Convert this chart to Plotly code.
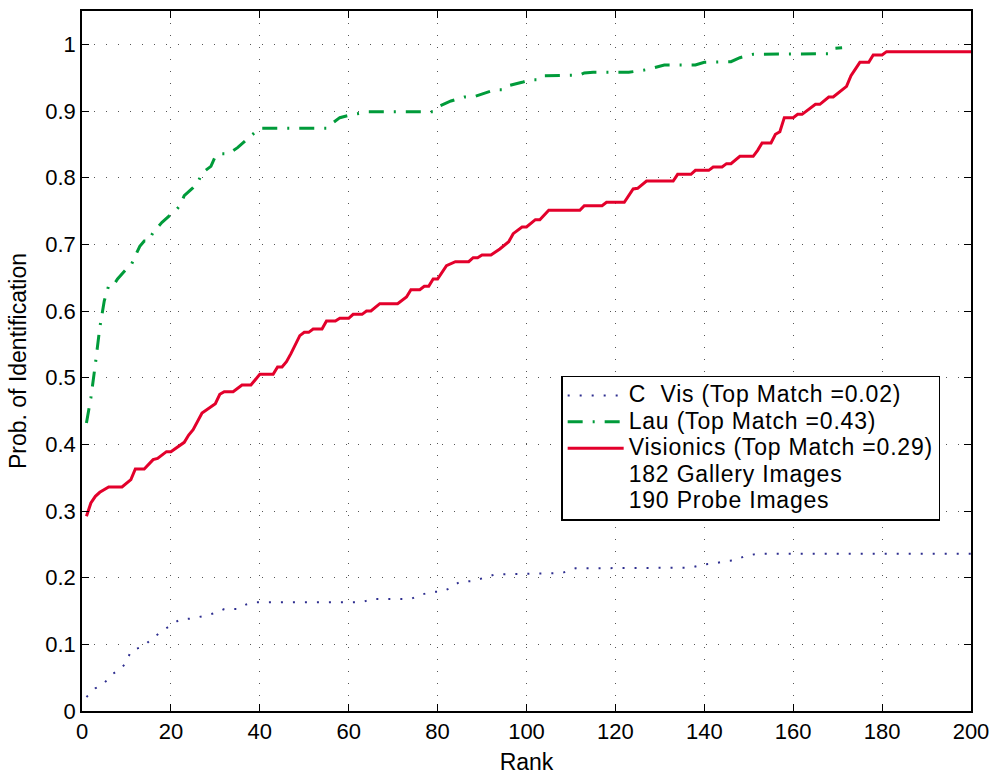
import plotly.graph_objects as go

# ---- data ----
vis_rank = [1, 2, 3, 4, 6, 9, 11, 12, 14, 16, 17, 19, 20, 23, 24, 25, 27, 30, 31, 32, 34, 36, 38, 40, 43, 44, 45, 46, 47, 49, 50, 51, 52, 54, 55, 57, 58, 60, 61, 63, 64, 65, 67, 71, 73, 74, 76, 77, 78, 79, 80, 82, 84, 87, 88, 89, 90, 92, 94, 96, 97, 99, 100, 102, 103, 105, 112, 113, 117, 118, 122, 123, 124, 125, 127, 133, 134, 137, 138, 141, 142, 144, 145, 146, 148, 151, 152, 153, 155, 156, 157, 158, 160, 161, 162, 165, 166, 168, 169, 172, 173, 175, 177, 178, 180, 181, 200]
vis_prob = [0.292, 0.312, 0.322, 0.328, 0.336, 0.336, 0.347, 0.363, 0.363, 0.377, 0.379, 0.389, 0.389, 0.403, 0.414, 0.422, 0.447, 0.461, 0.475, 0.479, 0.479, 0.489, 0.489, 0.505, 0.505, 0.516, 0.516, 0.524, 0.536, 0.563, 0.568, 0.568, 0.573, 0.573, 0.585, 0.585, 0.589, 0.589, 0.595, 0.595, 0.600, 0.600, 0.611, 0.611, 0.621, 0.632, 0.632, 0.637, 0.637, 0.648, 0.648, 0.668, 0.674, 0.674, 0.680, 0.680, 0.684, 0.684, 0.693, 0.704, 0.716, 0.726, 0.726, 0.737, 0.737, 0.751, 0.751, 0.758, 0.758, 0.763, 0.763, 0.774, 0.783, 0.784, 0.795, 0.795, 0.805, 0.805, 0.811, 0.811, 0.816, 0.816, 0.821, 0.821, 0.832, 0.832, 0.841, 0.852, 0.852, 0.865, 0.869, 0.890, 0.890, 0.895, 0.895, 0.910, 0.910, 0.921, 0.921, 0.937, 0.953, 0.973, 0.973, 0.984, 0.984, 0.989, 0.989]

lau_rank = [1, 2, 3, 4, 5, 6, 7, 8, 10, 11, 12, 13, 14, 15, 16, 18, 20, 21, 22, 23, 25, 26, 27, 29, 30, 31, 33, 35, 37, 39, 40, 55, 56, 58, 61, 63, 64, 79, 80, 83, 86, 88, 91, 93, 95, 96, 99, 101, 103, 104, 112, 113, 115, 123, 127, 129, 131, 138, 140, 146, 148, 151, 165, 168, 169, 171]
lau_prob = [0.432, 0.470, 0.520, 0.575, 0.615, 0.638, 0.638, 0.648, 0.663, 0.668, 0.683, 0.697, 0.705, 0.705, 0.718, 0.733, 0.745, 0.750, 0.758, 0.773, 0.785, 0.792, 0.807, 0.817, 0.832, 0.836, 0.836, 0.845, 0.857, 0.868, 0.874, 0.874, 0.880, 0.890, 0.895, 0.897, 0.899, 0.899, 0.906, 0.915, 0.921, 0.921, 0.927, 0.932, 0.932, 0.938, 0.943, 0.947, 0.947, 0.953, 0.954, 0.957, 0.958, 0.958, 0.962, 0.966, 0.969, 0.969, 0.973, 0.974, 0.980, 0.985, 0.985, 0.986, 0.994, 0.995]

cvis_rank = [1, 3, 5, 7, 9, 10, 11, 14, 16, 18, 20, 22, 25, 27, 30, 32, 35, 37, 39, 63, 65, 74, 76, 79, 81, 83, 85, 88, 90, 93, 108, 111, 137, 140, 142, 145, 147, 149, 152, 200]
cvis_prob = [0.021, 0.034, 0.042, 0.056, 0.065, 0.074, 0.090, 0.098, 0.110, 0.120, 0.129, 0.137, 0.139, 0.142, 0.147, 0.153, 0.153, 0.160, 0.163, 0.163, 0.168, 0.168, 0.174, 0.179, 0.179, 0.185, 0.194, 0.195, 0.199, 0.205, 0.207, 0.214, 0.215, 0.220, 0.221, 0.225, 0.226, 0.232, 0.236, 0.236]

names = ["C  Vis (Top Match =0.02)", "Lau (Top Match =0.43)", "Visionics (Top Match =0.29)"]
notes = ["182 Gallery Images", "190 Probe Images"]
x_ticks = [0, 20, 40, 60, 80, 100, 120, 140, 160, 180, 200]
y_ticks = [0, 0.1, 0.2, 0.3, 0.4, 0.5, 0.6, 0.7, 0.8, 0.9, 1]
y_labels = ["0", "0.1", "0.2", "0.3", "0.4", "0.5", "0.6", "0.7", "0.8", "0.9", "1"]

FONT = "Liberation Sans, Arial, Helvetica, sans-serif"


def legend_label(s):
    # larger visible text, compact row spacing (row height follows legend.font.size)
    return ('<span style="font-size:23px;letter-spacing:0.8px">'
            + s.replace(" ", "&nbsp;") + "</span>")


fig = go.Figure()
fig.add_trace(go.Scatter(x=cvis_rank, y=cvis_prob, mode="lines", name=legend_label(names[0]),
                         line=dict(color="#2e2e8f", width=2, dash="2px,10px")))
fig.add_trace(go.Scatter(x=lau_rank, y=lau_prob, mode="lines", name=legend_label(names[1]),
                         line=dict(color="#009b3a", width=3, dash="15px,10px,2px,10px")))
fig.add_trace(go.Scatter(x=vis_rank, y=vis_prob, mode="lines", name=legend_label(names[2]),
                         line=dict(color="#e3002b", width=3)))
for n in notes:
    fig.add_trace(go.Scatter(x=[None], y=[None], mode="lines", name=legend_label(n),
                             line=dict(color="rgba(0,0,0,0)", width=1)))

axis_common = dict(showline=True, linecolor="black", linewidth=1.5, mirror="ticks",
                   ticks="inside", ticklen=7, tickwidth=1.2, tickcolor="black",
                   showgrid=True, gridcolor="#555555", gridwidth=1, griddash="1px,11px",
                   zeroline=False, tickfont=dict(size=22, color="black", family=FONT))

fig.update_xaxes(range=[0, 200], tickvals=x_ticks,
                 title=dict(text="Rank", font=dict(size=23, color="black", family=FONT), standoff=11),
                 **axis_common)
fig.update_yaxes(range=[0, 1.05], tickvals=y_ticks, ticktext=y_labels,
                 title=dict(text="Prob. of Identification", font=dict(size=23, color="black", family=FONT), standoff=12),
                 **axis_common)

fig.update_layout(
    width=998, height=780,
    margin=dict(l=82, r=23, t=9, b=67),
    paper_bgcolor="white", plot_bgcolor="white",
    font=dict(family=FONT, color="black"),
    legend=dict(x=0.539, y=0.479, xanchor="left", yanchor="top",
                bgcolor="white", bordercolor="black", borderwidth=1.5,
                font=dict(size=18, color="black", family=FONT),
                tracegroupgap=0, itemwidth=56),
    showlegend=True,
)

# remove the default 8px page margin so the figure sits at the window origin
fig.write_html("out.html", config={"displayModeBar": False},
               post_script="document.body.style.margin='0';document.body.style.overflow='hidden';")
